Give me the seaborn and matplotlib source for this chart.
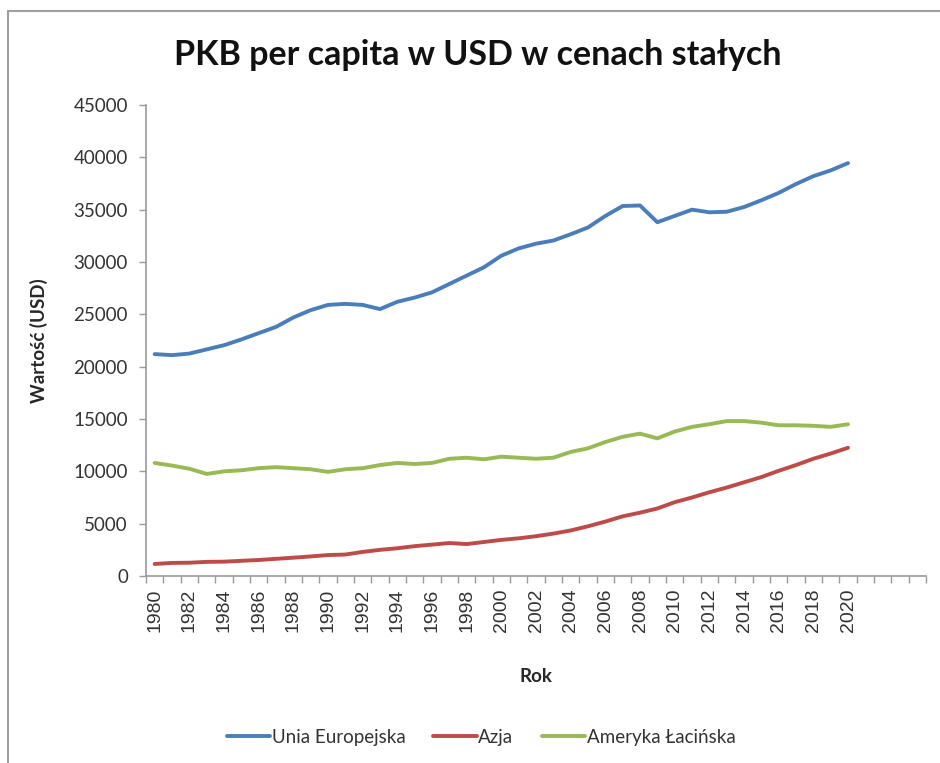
import matplotlib
matplotlib.use("Agg")
import matplotlib.pyplot as plt
import numpy as np
import pandas as pd
import seaborn as sns
from matplotlib.patches import Rectangle

# ============================================================
#  Data — GDP per capita, constant USD
# ============================================================

years = list(range(1980, 2021))

unia_europejska = [21200, 21100, 21250, 21650, 22050, 22600, 23200, 23800, 24700, 25400,
                   25900, 26000, 25900, 25500, 26200, 26600, 27100, 27900, 28700, 29500,
                   30600, 31300, 31750, 32050, 32650, 33300, 34400, 35350, 35400, 33800,
                   34400, 35000, 34750, 34800, 35250, 35900, 36600, 37450, 38200, 38750,
                   39450]

azja = [1150, 1250, 1270, 1350, 1370, 1450, 1530, 1640, 1750, 1870,
        2000, 2050, 2300, 2500, 2650, 2850, 3000, 3150, 3050, 3250,
        3450, 3600, 3800, 4050, 4350, 4750, 5200, 5700, 6050, 6450,
        7050, 7500, 8000, 8450, 8950, 9450, 10050, 10600, 11200, 11700,
        12250]

ameryka_lacinska = [10800, 10550, 10250, 9750, 10000, 10100, 10300, 10400, 10300, 10200,
                    9950, 10200, 10300, 10600, 10800, 10700, 10800, 11200, 11300, 11150,
                    11400, 11300, 11200, 11300, 11850, 12200, 12800, 13300, 13600, 13150,
                    13800, 14250, 14500, 14800, 14800, 14650, 14400, 14400, 14350, 14250,
                    14500]

series_names = ["Unia Europejska", "Azja", "Ameryka Łacińska"]
colors = ["#4A7EBB", "#BE4B48", "#98B954"]

df = pd.DataFrame({
    "Rok": years * 3,
    "value": unia_europejska + azja + ameryka_lacinska,
    "series": [series_names[0]] * len(years) + [series_names[1]] * len(years)
              + [series_names[2]] * len(years),
})

# ============================================================
#  Plot
# ============================================================

sns.set_theme(style="white")
plt.rcParams["font.family"] = ["Lato", "DejaVu Sans"]

fig = plt.figure(figsize=(9.40, 7.63), dpi=100)
ax = fig.add_axes([146 / 940, 1 - 576 / 763, (926 - 146) / 940, (576 - 105) / 763])

sns.lineplot(data=df, x="Rok", y="value", hue="series", palette=colors,
             hue_order=series_names, linewidth=2.8, ax=ax, legend=True)

# axes limits / ticks (category style: ticks between years)
ax.set_xlim(1979.5, 2024.5)
ax.set_ylim(0, 45000)
ax.set_yticks(np.arange(0, 45001, 5000))
ax.set_xticks(np.arange(1980, 2021, 2))
ax.set_xticks(np.arange(1979.5, 2025, 1), minor=True)
ax.tick_params(axis="x", which="major", length=0, pad=9, labelsize=14,
               labelrotation=90, colors="#333333")
ax.tick_params(axis="x", which="minor", length=5, width=1, color="#9a9a9a",
               direction="out", bottom=True)
ax.tick_params(axis="y", which="major", length=5, width=1, color="#9a9a9a",
               direction="out", left=True, labelsize=13.5, labelcolor="#333333", pad=8)
for lab in ax.get_xticklabels():
    lab.set_fontfamily(["Liberation Sans", "DejaVu Sans"])

for side in ["top", "right"]:
    ax.spines[side].set_visible(False)
for side in ["left", "bottom"]:
    ax.spines[side].set_color("#9a9a9a")
    ax.spines[side].set_linewidth(1.2)

ax.set_xlabel("Rok", fontsize=13.5, fontweight="bold", labelpad=26)
ax.set_ylabel("Wartość (USD)", fontsize=13.5, fontweight="bold", labelpad=18)

fig.text(0.508, 1 - 55 / 763, "PKB per capita w USD w cenach stałych",
         ha="center", va="center", fontsize=24.5, fontweight="bold", color="#111111")

leg = ax.legend(loc="center", bbox_to_anchor=(481 / 940, 1 - 737 / 763),
                bbox_transform=fig.transFigure, ncol=3, frameon=False,
                fontsize=13.5, handlelength=2.3, handletextpad=0.1, columnspacing=1.5)
for t in leg.get_texts():
    t.set_color("#333333")

# outer chart border
fig.patches.append(Rectangle((8 / 940, -0.05), 1.1, 1 - 11 / 763 + 0.05,
                             transform=fig.transFigure, fill=False,
                             edgecolor="#a0a0a0", linewidth=1.5))

fig.savefig("out.png", dpi=100)
